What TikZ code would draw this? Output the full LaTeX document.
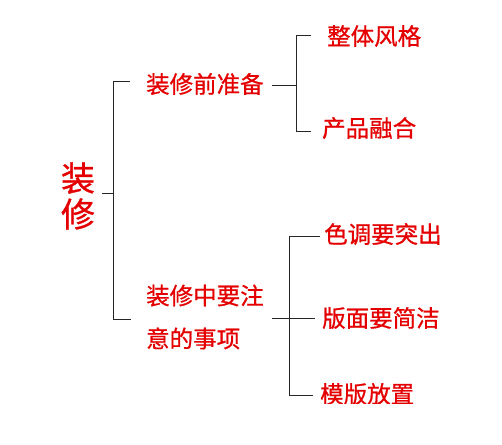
\documentclass[tikz,border=0pt]{standalone}
\usepackage{fontspec}
\newfontfamily\cjk[FakeBold=0.8]{Noto Sans CJK SC}
\definecolor{txtred}{RGB}{228,0,0}
\begin{document}
\begin{tikzpicture}[x=1pt,y=-1pt,
  lbl/.style={text=txtred,font=\cjk\fontsize{23.5}{43}\selectfont,inner sep=0pt,anchor=west,align=left},
  br/.style={draw=black!85,line width=0.9pt}]
\useasboundingbox (0,0) rectangle (502,444);
\node[text=txtred,font=\cjk\fontsize{34}{36}\selectfont,inner sep=0pt,align=center] (root) at (78,196) {装\\修};
\node[lbl] (a) at (146,84) {装修前准备};
\node[lbl] (b) at (146,317) {装修中要注\\意的事项};
\node[lbl] (a1) at (327,36) {整体风格};
\node[lbl] (a2) at (322,128) {产品融合};
\node[lbl] (b1) at (324,234) {色调要突出};
\node[lbl] (b2) at (322,318) {版面要简洁};
\begin{scope}
\clip (300,370) rectangle (450,403);
\node[lbl] (b3) at (320,394) {模版放置};
\end{scope}
% root bracket
\coordinate (rs) at (102,193);
\coordinate (rt) at (113,193);
\draw[br] (rs) -- (rt);
\draw[br] (130,81) -- (113,81) -- (113,319) -- (131,319);
% a bracket
\coordinate (as) at (272,85);
\draw[br] (as) -- (296,85);
\draw[br] (311,35) -- (296,35) -- (296,131) -- (311,131);
% b bracket
\coordinate (bs) at (272,318);
\draw[br] (bs) -- (289,318);
\draw[br] (320,236) -- (289,236) -- (289,395) -- (313,395);
\draw[br] (289,318) -- (315,318);
\end{tikzpicture}
\end{document}
